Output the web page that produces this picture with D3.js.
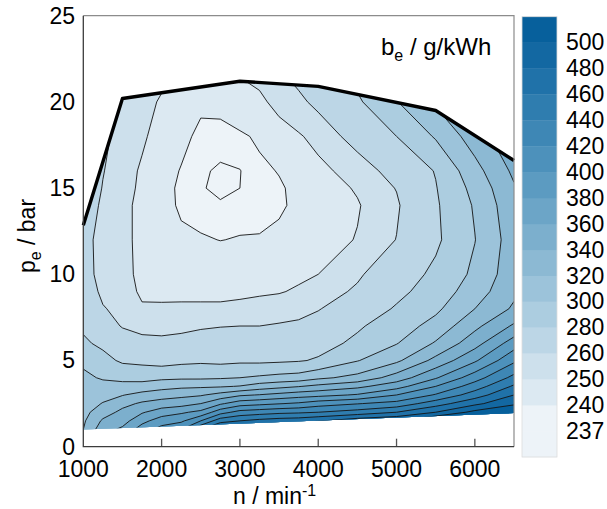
<!DOCTYPE html>
<html>
<head>
<meta charset="utf-8">
<script src="https://cdn.jsdelivr.net/npm/d3@7"></script>
<style>
  body { margin: 0; background: #fff; }
  text { font-family: "Liberation Sans", Arial, sans-serif; fill: #000; }
</style>
</head>
<body>
<svg id="chart" width="607" height="509"></svg>
<script>
// engine speed grid, 1/min
const speeds = [1000, 1250, 1500, 1750, 2000, 2250, 2500, 2750, 3000, 3250, 3500, 3750, 4000, 4500, 5000, 5500, 6000, 6500];
// bmep grid, bar
const pressures = [1, 1.5, 2, 2.5, 3, 3.5, 4, 5, 6, 7, 8, 9, 10, 12, 14, 15, 16, 18, 20, 22];
// be in g/kWh, one row per pressure
const bsfc = [
  [320, 352, 364, 390, 408, 420, 460, 490, 500, 505, 510, 515, 520, 530, 540, 550, 560, 545],
  [317, 343, 352, 374, 390, 396, 420, 452, 460, 466, 470, 472, 478, 493, 500, 525, 545, 530],
  [314, 331, 345, 358, 370, 377, 385, 412, 427, 431, 435, 437, 440, 448, 460, 480, 506, 517],
  [311, 321, 334, 343, 349, 352, 360, 377, 391, 395, 399, 403, 411, 419, 427, 451, 475, 497],
  [309, 314, 319, 327, 331, 335, 338, 347, 357, 361, 366, 371, 374, 382, 400, 422, 450, 480],
  [306, 306, 306, 307, 313, 316, 317, 318, 321, 329, 334, 339, 345, 355, 372, 400, 430, 463],
  [304, 298, 295, 294, 296, 297, 297, 298, 300, 303, 306, 308, 316, 326, 349, 378, 411, 446],
  [296, 286, 277, 275, 272, 275, 276.5, 275, 276.5, 276, 277, 278.5, 282, 299, 316, 346, 377, 416],
  [283, 276, 268, 264, 263, 264, 266, 267, 267, 267.5, 268, 269, 273, 284, 299, 322, 352, 390],
  [277, 267, 259, 256, 256, 257, 258.5, 259.5, 260, 260, 261, 262, 265, 277.5, 290, 307, 335, 363],
  [273, 261, 256, 251, 251.5, 252, 252, 252, 253, 254, 255, 256.5, 259.3, 268, 282, 296, 320, 343],
  [269, 257, 254, 248.5, 247.5, 247, 247, 247, 247.5, 248.5, 249.3, 251.3, 254, 262, 275, 289, 310, 336],
  [266, 255, 252.5, 248, 245, 244, 243.5, 243.5, 244, 245, 246, 248, 250, 258, 270, 284, 304, 332],
  [265, 255, 252.5, 247.5, 243, 241, 240.5, 239.9, 240.3, 240.3, 241.5, 244, 246, 250.5, 260.3, 276.5, 299.5, 330],
  [267, 258, 252.5, 247.5, 242, 239.2, 238, 237.4, 238, 238.6, 239, 241.5, 244.5, 249.2, 258.3, 277.5, 302, 334],
  [268, 259.5, 253.5, 248.2, 242, 239, 237.3, 236.2, 237, 238.5, 239.3, 241.5, 245, 251, 260.5, 279, 306, 338],
  [270, 260.5, 254.5, 248.6, 243, 239.6, 237.5, 236.5, 236.9, 238.8, 240.3, 243, 247.5, 254, 265, 281, 313, 344],
  [273, 261.2, 258, 251.7, 245.5, 242, 238.3, 238.5, 239, 241, 246, 249, 253, 265, 280, 302, 330, 355],
  [276, 263, 259, 253, 249, 246.5, 241.5, 241.5, 245, 248, 253, 257.5, 263, 277, 299, 323, 345, 366],
  [280, 266, 263, 256, 253, 251, 245, 245, 252, 254, 260, 265, 272, 288, 315, 340, 360, 377]
];
// contour levels, g/kWh
const levels = [237, 240, 250, 260, 280, 300, 320, 340, 360, 380, 400, 420, 440, 460, 480, 500];
// fill of each band, lowest first (below 237 ... above 500)
const bandColors = ["#edf3f8", "#edf3f8", "#dce9f2", "#cde0ec", "#bcd6e6", "#accde0", "#9cc3da",
  "#8cb9d3", "#7cafcd", "#6ca5c7", "#5c9bc1", "#4d91bb", "#3e87b5", "#2f7daf", "#2072a9", "#1368a2", "#07609c"];

// full load curve
const fullLoadSpeed = [1000, 1500, 3000, 4000, 5500, 6500];
const fullLoadPe = [12.85, 20.2, 21.2, 20.9, 19.5, 16.6];
// lowest measured load
const minLoadSpeed = [6500, 1000];
const minLoadPe = [1.95, 1.0];

const xTicks = [1000, 2000, 3000, 4000, 5000, 6000];
const yTicks = [0, 5, 10, 15, 20, 25];

const svg = d3.select("#chart");

const x = d3.scaleLinear().domain([1000, 6500]).range([83.3, 514]);
const y = d3.scaleLinear().domain([0, 25]).range([446.7, 15.7]);

// grid index -> physical value (grid is not evenly spaced)
const colToSpeed = d3.scaleLinear().domain(d3.range(speeds.length)).range(speeds);
const rowToPe = d3.scaleLinear().domain(d3.range(pressures.length)).range(pressures);

const gridToScreen = d3.geoTransform({
    point: function(gx, gy) {
        this.stream.point(x(colToSpeed(gx - 0.5)), y(rowToPe(gy - 0.5)));
    }
});
const contourPath = d3.geoPath(gridToScreen);

const contours = d3.contours()
    .size([speeds.length, pressures.length])
    .thresholds(levels)(bsfc.flat());

const line = d3.line().x(d => x(d[0])).y(d => y(d[1]));

const fullLoad = fullLoadSpeed.map((n, i) => [n, fullLoadPe[i]]);
const region = fullLoad.concat(minLoadSpeed.map((n, i) => [n, minLoadPe[i]]));

svg.append("clipPath").attr("id", "region")
    .append("path").attr("d", line(region) + "Z");

// x ticks sit under the map
svg.append("g").selectAll("line")
    .data(xTicks.slice(1))
    .join("line")
    .attr("x1", d => x(d)).attr("x2", d => x(d))
    .attr("y1", y(0)).attr("y2", y(0) - 8)
    .attr("stroke", "#555").attr("stroke-width", 1.3);

const map = svg.append("g").attr("clip-path", "url(#region)");

map.append("path")
    .attr("d", line(region) + "Z")
    .attr("fill", bandColors[0]);

map.selectAll("path.band")
    .data(contours)
    .join("path")
    .attr("class", "band")
    .attr("d", contourPath)
    .attr("fill-rule", "evenodd")
    .attr("fill", (d, i) => bandColors[i + 1]);

map.selectAll("path.iso")
    .data(contours)
    .join("path")
    .attr("class", "iso")
    .attr("d", contourPath)
    .attr("fill", "none")
    .attr("stroke", "#141414")
    .attr("stroke-width", 0.9);

// full load line
svg.append("path")
    .attr("d", line(fullLoad))
    .attr("fill", "none")
    .attr("stroke", "#000")
    .attr("stroke-width", 3.4)
    .attr("stroke-linejoin", "round");

// frame
svg.append("path")
    .attr("d", `M${x(1000)},${y(25)}H${x(6500)}V${y(0)}`)
    .attr("fill", "none").attr("stroke", "#8c8c8c").attr("stroke-width", 1.2);
svg.append("path")
    .attr("d", `M${x(1000)},${y(25)}V${y(0)}H${x(6500)}`)
    .attr("fill", "none").attr("stroke", "#3c3c3c").attr("stroke-width", 1.3);

svg.append("g").selectAll("text")
    .data(xTicks)
    .join("text")
    .attr("x", d => x(d))
    .attr("y", 477)
    .attr("text-anchor", "middle")
    .attr("font-size", 23)
    .text(d => d);

svg.append("g").selectAll("text")
    .data(yTicks)
    .join("text")
    .attr("x", 75)
    .attr("y", d => y(d))
    .attr("dy", "0.34em")
    .attr("text-anchor", "end")
    .attr("font-size", 23)
    .text(d => d);

// axis titles
const xTitle = svg.append("text")
    .attr("x", 233).attr("y", 504)
    .attr("font-size", 23);
xTitle.append("tspan").text("n / min");
xTitle.append("tspan").attr("font-size", 16).attr("dy", -8).text("-1");

const yTitle = svg.append("text")
    .attr("transform", "translate(35,236) rotate(-90)")
    .attr("text-anchor", "middle")
    .attr("font-size", 23);
yTitle.append("tspan").text("p");
yTitle.append("tspan").attr("font-size", 16).attr("dy", 6).text("e");
yTitle.append("tspan").attr("dy", -6).text(" / bar");

const zTitle = svg.append("text")
    .attr("x", 381).attr("y", 55)
    .attr("font-size", 24);
zTitle.append("tspan").text("b");
zTitle.append("tspan").attr("font-size", 16).attr("dy", 6).text("e");
zTitle.append("tspan").attr("dy", -6).text(" / g/kWh");

// colorbar
const cbY = d3.scaleLinear().domain([0, levels.length + 1]).range([457, 16.7]);
const cb = svg.append("g");
cb.selectAll("rect")
    .data(bandColors)
    .join("rect")
    .attr("x", 522)
    .attr("width", 35)
    .attr("y", (d, k) => cbY(k + 1))
    .attr("height", (d, k) => cbY(k) - cbY(k + 1) + 0.3)
    .attr("fill", d => d);
cb.append("rect")
    .attr("x", 522).attr("y", cbY(levels.length + 1))
    .attr("width", 35).attr("height", cbY(0) - cbY(levels.length + 1))
    .attr("fill", "none").attr("stroke", "#dcdcdc").attr("stroke-width", 0.8);
cb.selectAll("text")
    .data(levels)
    .join("text")
    .attr("x", 566)
    .attr("y", (d, i) => cbY(i + 1))
    .attr("dy", "0.34em")
    .attr("font-size", 23)
    .text(d => d);
</script>
</body>
</html>
